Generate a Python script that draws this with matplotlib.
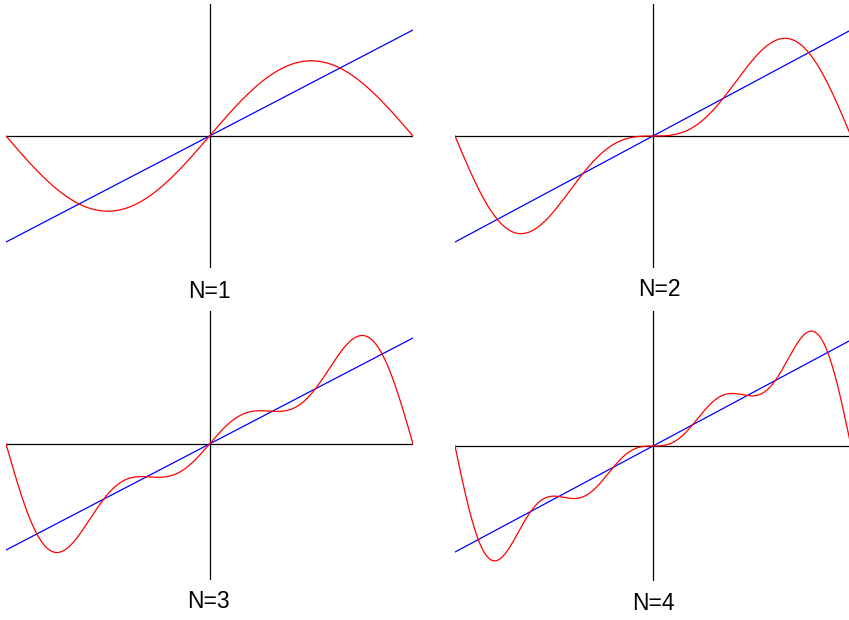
import numpy as np
import matplotlib
matplotlib.use("Agg")
import matplotlib.pyplot as plt

# Data: partial Fourier sums of a sawtooth
labels = ["N=1", "N=2", "N=3", "N=4"]
coefficients = [2.0, -1.0, 0.667, -0.5]   # sine-term amplitudes
line_ends = [-2.82, 2.82]                 # blue reference line at x = -pi, pi
x_range = [-np.pi, np.pi]

W, H = 849, 620
fig = plt.figure(figsize=(W / 100, H / 100), dpi=100)

# panel pixel boxes: (left, right, top, bottom, axis_y)
panels = [
    (6, 413, 4, 268, 136),
    (455, 851, 4, 268, 136),
    (6, 413, 311, 580, 444),
    (455, 851, 311, 581, 446),
]
label_pos = [(209, 291), (659, 290), (208, 601), (653, 603)]
unit_px = 37.6

x = np.linspace(x_range[0], x_range[1], 600)
k = np.arange(1, len(coefficients) + 1)

for i, (l, r, t, b, cy) in enumerate(panels):
    ax = fig.add_axes([l / W, 1 - b / H, (r - l) / W, (b - t) / H])
    ax.set_xlim(x_range)
    ax.set_ylim(-(b - cy) / unit_px, (cy - t) / unit_px)
    ax.axis("off")
    ax.axhline(0, color="black", lw=0.9)
    ax.axvline(0, color="black", lw=0.9)
    n = i + 1
    y = np.sum(np.array(coefficients[:n])[:, None] * np.sin(k[:n, None] * x[None, :]), axis=0)
    ax.plot(x_range, line_ends, color="blue", lw=0.9)
    ax.plot(x, y, color="red", lw=0.9)
    px, py = label_pos[i]
    fig.text(px / W, 1 - py / H, labels[i], ha="center", va="center",
             fontsize=16.5, family="Liberation Sans")

fig.savefig("out.png", dpi=100)
